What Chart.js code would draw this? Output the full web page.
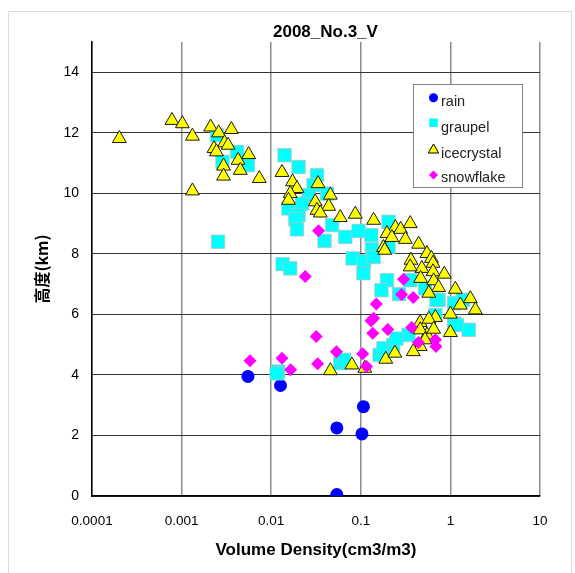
<!DOCTYPE html>
<html>
<head>
<meta charset="utf-8">
<script src="https://cdn.jsdelivr.net/npm/chart.js"></script>
<style>
  html, body { margin: 0; padding: 0; background: #fff; }
</style>
</head>
<body>
<canvas id="chart" width="575" height="573"></canvas>
<script>
// axis ticks
var xTicks = [0.0001, 0.001, 0.01, 0.1, 1, 10];
var yTicks = [0, 2, 4, 6, 8, 10, 12, 14];

// series names
var seriesNames = ['rain', 'graupel', 'icecrystal', 'snowflake'];

// [volume density, height km]
var rain = [
  [0.0055, 3.95], [0.0127, 3.65], [0.107, 2.95], [0.054, 2.25], [0.103, 2.05], [0.054, 0.05]
];

var graupel = [
  [0.00248, 11.92], [0.00415, 11.37], [0.00286, 11.04], [0.0055, 10.93], [0.00255, 8.40],
  [0.0141, 11.26], [0.0202, 10.87], [0.0324, 10.6], [0.0297, 10.27], [0.042, 9.99],
  [0.0263, 9.94], [0.0221, 9.66], [0.0156, 9.5], [0.0202, 9.28], [0.0186, 9.14],
  [0.0194, 8.81], [0.0478, 8.95], [0.0394, 8.43], [0.0672, 8.56], [0.0945, 8.76],
  [0.131, 8.62], [0.133, 8.15], [0.204, 9.06], [0.204, 8.23], [0.081, 7.85],
  [0.109, 7.76], [0.0134, 7.66], [0.0163, 7.52], [0.139, 7.9], [0.107, 7.36],
  [0.196, 7.13], [0.17, 6.8], [0.267, 6.67], [0.356, 7.13], [0.52, 6.86],
  [0.738, 6.48], [0.68, 5.98], [1.1, 6.37], [1.38, 6.48], [0.7, 6.48],
  [0.012, 4.11], [0.0115, 4.05], [0.059, 4.39], [0.065, 4.5], [0.162, 4.66],
  [0.179, 4.88], [0.23, 4.99], [1.6, 5.49], [1.1, 5.7], [1.18, 5.65],
  [0.34, 5.32], [0.25, 5.2]
];

var icecrystal = [
  [0.000202, 11.81], [0.00078, 12.41], [0.00102, 12.30], [0.00132, 11.89], [0.00211, 12.19],
  [0.00259, 12.0], [0.00359, 12.11], [0.00302, 11.67], [0.0033, 11.59], [0.0023, 11.48],
  [0.00245, 11.37], [0.0056, 11.28], [0.00427, 11.09], [0.00294, 10.9], [0.00452, 10.76],
  [0.00294, 10.57], [0.00736, 10.49], [0.00132, 10.08],
  [0.0132, 10.69], [0.0173, 10.38], [0.0194, 10.16], [0.0163, 9.99], [0.0156, 9.77],
  [0.0333, 10.32], [0.0457, 9.94], [0.031, 9.72], [0.0438, 9.57], [0.0324, 9.44],
  [0.0353, 9.35], [0.059, 9.2], [0.0868, 9.31], [0.139, 9.11], [0.243, 8.87],
  [0.279, 8.81], [0.196, 8.67], [0.222, 8.54], [0.179, 8.21],
  [0.356, 9.0], [0.314, 8.48], [0.442, 8.32], [0.185, 8.12], [0.548, 8.01],
  [0.614, 7.85], [0.363, 7.79], [0.64, 7.69], [0.48, 7.52], [0.356, 7.57],
  [0.855, 7.33], [0.64, 7.41], [0.465, 7.19], [0.65, 7.11], [0.738, 6.89],
  [1.135, 6.83], [0.575, 6.7], [1.67, 6.52], [1.29, 6.31], [1.9, 6.15],
  [1.0, 6.01], [0.46, 5.73], [0.68, 5.9], [0.575, 5.84],
  [0.0458, 4.14], [0.0795, 4.33], [0.111, 4.22], [0.19, 4.52], [0.24, 4.72],
  [0.548, 5.32], [1.0, 5.4], [0.46, 5.49], [0.65, 5.51], [0.52, 5.16],
  [0.46, 4.94], [0.385, 4.77]
];

var snowflake = [
  [0.0338, 8.76], [0.024, 7.25], [0.3, 7.16], [0.285, 6.66], [0.385, 6.56],
  [0.149, 6.34], [0.139, 5.87], [0.13, 5.79], [0.2, 5.5], [0.136, 5.38],
  [0.0318, 5.27], [0.0535, 4.77], [0.033, 4.37], [0.105, 4.7], [0.116, 4.28],
  [0.0132, 4.55], [0.0165, 4.17], [0.0058, 4.47], [0.37, 5.57], [0.44, 5.07],
  [0.68, 5.16], [0.69, 4.94]
];

function toPts(arr) {
  return arr.map(function(p) { return {x: p[0], y: p[1]}; });
}

// draw a marker like the chart does (used for the legend box)
function marker(c, style, x, y, r, fill, stroke, lw) {
  c.beginPath();
  if (style === 'circle') {
    c.arc(x, y, r, 0, Math.PI * 2);
  } else if (style === 'rect') {
    var s = r * Math.SQRT1_2;
    c.rect(x - s, y - s, 2 * s, 2 * s);
  } else if (style === 'triangle') {
    c.moveTo(x, y - r);
    c.lineTo(x + r * 0.866, y + r / 2);
    c.lineTo(x - r * 0.866, y + r / 2);
    c.closePath();
  } else {
    c.moveTo(x, y - r);
    c.lineTo(x + r, y);
    c.lineTo(x, y + r);
    c.lineTo(x - r, y);
    c.closePath();
  }
  c.fillStyle = fill;
  c.fill();
  if (lw) {
    c.lineWidth = lw;
    c.strokeStyle = stroke;
    c.stroke();
  }
}

var deco = {
  id: 'deco',
  beforeDraw: function(chart) {
    var c = chart.ctx;
    c.save();
    c.fillStyle = '#fff';
    c.fillRect(0, 0, chart.width, chart.height);
    c.strokeStyle = '#dcdcdc';
    c.lineWidth = 1;
    c.strokeRect(8.5, 11.5, 563, 600);
    c.restore();
  },
  afterDraw: function(chart) {
    var c = chart.ctx;
    c.save();
    // title
    c.fillStyle = '#000';
    c.font = 'bold 17px "Liberation Sans", Arial, sans-serif';
    c.textAlign = 'left';
    c.textBaseline = 'alphabetic';
    c.fillText('2008_No.3_V', 273, 37);

    // legend box
    c.fillStyle = '#fff';
    c.fillRect(413.5, 84.5, 109, 103);
    c.strokeStyle = '#808080';
    c.lineWidth = 1;
    c.strokeRect(413.5, 84.5, 109, 103);

    var rows = [
      {style: 'circle', r: 4.5, fill: '#0000ff', stroke: null, lw: 0, my: 97.7, ty: 106},
      {style: 'rect', r: 6, fill: '#00ffff', stroke: null, lw: 0, my: 122.7, ty: 131.7},
      {style: 'triangle', r: 6, fill: '#ffff00', stroke: '#000', lw: 1, my: 150, ty: 157.7},
      {style: 'rectRot', r: 4.5, fill: '#ff00ff', stroke: null, lw: 0, my: 175, ty: 182.3}
    ];
    c.font = '14.5px "Liberation Sans", Arial, sans-serif';
    rows.forEach(function(row, i) {
      marker(c, row.style, 433.5, row.my, row.r, row.fill, row.stroke, row.lw);
      c.fillStyle = '#222';
      c.fillText(seriesNames[i], 441, row.ty);
    });
    c.restore();
  }
};

var tickFont = {family: '"Liberation Sans", Arial, sans-serif', size: 13.5};

var myChart = new Chart(document.getElementById('chart'), {
  type: 'scatter',
  data: {
    datasets: [{
      label: seriesNames[0],
      data: toPts(rain),
      pointStyle: 'circle',
      pointRadius: 6.5,
      backgroundColor: '#0000ff',
      borderWidth: 0,
      order: 4
    }, {
      label: seriesNames[1],
      data: toPts(graupel),
      pointStyle: 'rect',
      pointRadius: 9.5,
      backgroundColor: '#00ffff',
      borderColor: 'rgba(190,190,190,0.7)',
      borderWidth: 1,
      order: 3
    }, {
      label: seriesNames[2],
      data: toPts(icecrystal),
      pointStyle: 'triangle',
      pointRadius: 8,
      backgroundColor: '#ffff00',
      borderColor: '#1a1a1a',
      borderWidth: 1,
      order: 2
    }, {
      label: seriesNames[3],
      data: toPts(snowflake),
      pointStyle: 'rectRot',
      pointRadius: 6.5,
      backgroundColor: '#ff00ff',
      borderWidth: 0,
      order: 1
    }]
  },
  options: {
    responsive: false,
    animation: false,
    layout: {padding: {left: 0, right: 35, top: 42, bottom: 0}},
    plugins: {
      legend: {display: false},
      tooltip: {enabled: false}
    },
    scales: {
      x: {
        type: 'logarithmic',
        min: 0.0001,
        max: 10,
        afterBuildTicks: function(s) {
          s.ticks = xTicks.map(function(v) { return {value: v}; });
        },
        afterFit: function(s) { s.height = 77; },
        ticks: {
          callback: function(v) { return String(v); },
          padding: 17,
          maxRotation: 0,
          autoSkip: false,
          color: '#000',
          font: tickFont
        },
        grid: {color: '#8c8c8c', lineWidth: 1.5, drawTicks: false},
        border: {color: '#000', width: 1.5},
        title: {
          display: true,
          text: 'Volume Density(cm3/m3)',
          color: '#000',
          font: {family: '"Liberation Sans", Arial, sans-serif', size: 17, weight: 'bold'},
          padding: {top: 0, bottom: 12}
        }
      },
      y: {
        min: 0,
        max: 15,
        afterBuildTicks: function(s) {
          s.ticks = yTicks.map(function(v) { return {value: v}; });
        },
        afterFit: function(s) { s.width = 92; },
        ticks: {
          padding: 13,
          color: '#000',
          font: {family: '"Liberation Sans", Arial, sans-serif', size: 14}
        },
        grid: {color: '#333', lineWidth: 1, drawTicks: false},
        border: {color: '#000', width: 1.5},
        title: {
          display: true,
          text: '高度(km)',
          color: '#000',
          font: {family: '"Noto Sans CJK JP", sans-serif', size: 16, weight: 'bold'},
          padding: {top: 32, bottom: 0}
        }
      }
    }
  },
  plugins: [deco]
});
</script>
</body>
</html>
